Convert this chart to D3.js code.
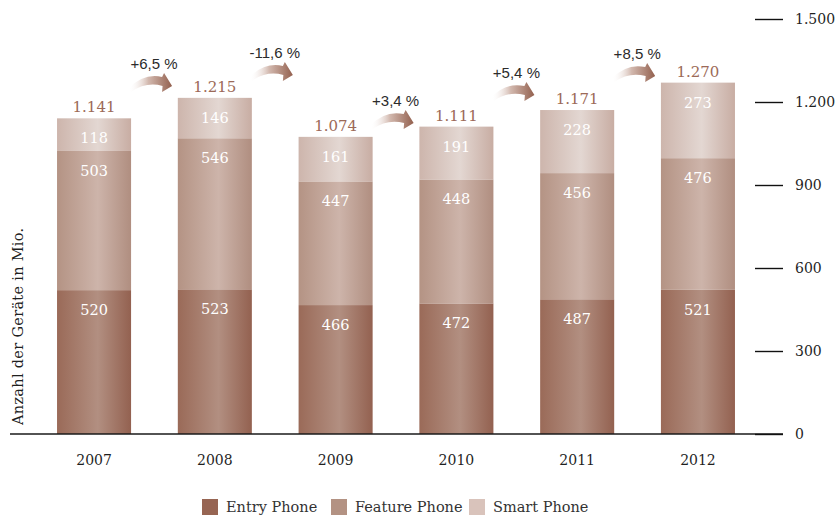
<!DOCTYPE html>
<html lang="de">
<head>
<meta charset="utf-8">
<script src="https://cdn.jsdelivr.net/npm/d3@7/dist/d3.min.js"></script>
<style>
  html, body { margin: 0; padding: 0; background: #ffffff; }
  svg { display: block; }
  text { font-family: "DejaVu Serif", serif; }
</style>
</head>
<body>
<svg id="chart" width="836" height="516"></svg>
<script>
// Absatz von Mobiltelefonen nach Gerätetyp, Mio. Stück
const years   = ["2007", "2008", "2009", "2010", "2011", "2012"];
const entry   = [520, 523, 466, 472, 487, 521];
const feature = [503, 546, 447, 448, 456, 476];
const smart   = [118, 146, 161, 191, 228, 273];
const seriesNames = ["Entry Phone", "Feature Phone", "Smart Phone"];
const yTicks  = [0, 300, 600, 900, 1200, 1500];

// Höhe der Wachstumspfeile zwischen zwei Jahren (in Mio., Oberkante des Pfeils)
const arrowLevels = [1305, 1345, 1171, 1272, 1341];

const W = 836, H = 516;
const svg = d3.select("#chart");

const de = d3.formatLocale({
  decimal: ",", thousands: ".", grouping: [3], currency: ["", " €"], minus: "-"
});
const fmtInt = de.format(",d");
const fmtPct = v => de.format("+.1f")(v) + " %";

const x = d3.scaleBand()
  .domain(years)
  .range([20.8, 771.2])
  .paddingInner(0.387)
  .paddingOuter(0.3);

const y = d3.scaleLinear().domain([0, 1500]).range([434, 19]);

// Farbverläufe der Säulen: dunkle Kanten, heller Streifen leicht rechts der Mitte
const palettes = [
  { edge: "#9a6a58", light: "#b28f81", edge2: "#936150", legend: "#976553" },
  { edge: "#b49384", light: "#cdb4aa", edge2: "#b08e80", legend: "#b39283" },
  { edge: "#cdb5ac", light: "#e3d7d2", edge2: "#c8ada3", legend: "#d9c3bb" }
];
const defs = svg.append("defs");
palettes.forEach((p, i) => {
  const g = defs.append("linearGradient")
    .attr("id", "bar-grad-" + i)
    .attr("x1", "0%").attr("x2", "100%").attr("y1", "0%").attr("y2", "0%");
  g.append("stop").attr("offset", "0%").attr("stop-color", p.edge);
  g.append("stop").attr("offset", "55%").attr("stop-color", p.light);
  g.append("stop").attr("offset", "100%").attr("stop-color", p.edge2);
});
const ag = defs.append("linearGradient")
  .attr("id", "arrow-grad")
  .attr("x1", "0%").attr("x2", "100%").attr("y1", "0%").attr("y2", "0%");
ag.append("stop").attr("offset", "0%").attr("stop-color", "#ffffff").attr("stop-opacity", 0);
ag.append("stop").attr("offset", "45%").attr("stop-color", "#d2b8ae").attr("stop-opacity", 1);
ag.append("stop").attr("offset", "100%").attr("stop-color", "#93604e").attr("stop-opacity", 1);

// Stapel
const rows = years.map((yr, i) => ({ year: yr, entry: entry[i], feature: feature[i], smart: smart[i] }));
const stack = d3.stack().keys(["entry", "feature", "smart"]);
const layers = stack(rows);
const totals = rows.map(r => r.entry + r.feature + r.smart);

const layerG = svg.append("g").selectAll("g")
  .data(layers)
  .join("g")
  .attr("fill", (d, i) => `url(#bar-grad-${i})`);

layerG.selectAll("rect")
  .data(d => d)
  .join("rect")
  .attr("x", d => x(d.data.year))
  .attr("width", x.bandwidth())
  .attr("y", d => y(d[1]))
  .attr("height", d => y(d[0]) - y(d[1]));

// Werte in den Segmenten
svg.append("g").selectAll("g")
  .data(layers)
  .join("g")
  .selectAll("text")
  .data(d => d.map(s => ({ s, v: s[1] - s[0] })))
  .join("text")
  .attr("x", d => x(d.s.data.year) + x.bandwidth() / 2)
  .attr("y", d => y(d.s[1]) + 25)
  .attr("text-anchor", "middle")
  .attr("fill", "#ffffff")
  .style("font-size", "14.5px")
  .text(d => fmtInt(d.v));

// Summen über den Säulen
svg.append("g").selectAll("text")
  .data(totals)
  .join("text")
  .attr("x", (d, i) => x(years[i]) + x.bandwidth() / 2)
  .attr("y", d => y(d) - 6)
  .attr("text-anchor", "middle")
  .attr("fill", "#9c6a58")
  .style("font-size", "15px")
  .text(d => fmtInt(d));

// Wachstumspfeile mit Veränderung zum Vorjahr
const arrowPath = "M0,15 Q15,0 33,4 L35,0 L43,13 L33,19 L33.5,13 Q17,8.5 2,19 Z";
const changes = totals.slice(1).map((t, i) => ({
  pct: (t - totals[i]) / totals[i] * 100,
  from: years[i],
  level: arrowLevels[i]
}));
const arrows = svg.append("g").selectAll("g")
  .data(changes)
  .join("g")
  .attr("transform", d => `translate(${x(d.from) + x.bandwidth() - 2},${y(d.level)})`);
arrows.append("path")
  .attr("d", arrowPath)
  .attr("fill", "url(#arrow-grad)");
arrows.append("text")
  .attr("x", 25)
  .attr("y", -4)
  .attr("text-anchor", "middle")
  .attr("fill", "#2b2b2b")
  .style("font-family", "'Liberation Sans', Arial, sans-serif")
  .style("font-size", "15px")
  .text(d => fmtPct(d.pct));

// Grundlinie
svg.append("line")
  .attr("x1", 10).attr("x2", 783)
  .attr("y1", y(0)).attr("y2", y(0))
  .attr("stroke", "#1a1a1a")
  .attr("stroke-width", 1.3);

// Jahresbeschriftung
svg.append("g").selectAll("text")
  .data(years)
  .join("text")
  .attr("x", d => x(d) + x.bandwidth() / 2)
  .attr("y", 465)
  .attr("text-anchor", "middle")
  .attr("fill", "#1f1f1f")
  .style("font-size", "14px")
  .text(d => d);

// Rechte Achse
const axis = d3.axisRight(y)
  .tickValues(yTicks)
  .tickSize(28)
  .tickPadding(12)
  .tickFormat(fmtInt);
const axisG = svg.append("g")
  .attr("transform", "translate(755,0)")
  .call(axis);
axisG.select(".domain").remove();
axisG.selectAll(".tick line").attr("stroke", "#111").attr("stroke-width", 1.4);
axisG.selectAll(".tick text")
  .attr("fill", "#1f1f1f")
  .style("font-family", "'DejaVu Serif', serif")
  .style("font-size", "14px");

// Achsentitel
svg.append("text")
  .attr("transform", "translate(23,425) rotate(-90)")
  .attr("fill", "#1f1f1f")
  .style("font-size", "14.5px")
  .style("letter-spacing", "0.3px")
  .text("Anzahl der Geräte in Mio.");

// Legende
const legendX = [202, 331, 469];
const legend = svg.append("g").selectAll("g")
  .data(seriesNames)
  .join("g")
  .attr("transform", (d, i) => `translate(${legendX[i]},499)`);
legend.append("rect")
  .attr("width", 16).attr("height", 16)
  .attr("fill", (d, i) => palettes[i].legend);
legend.append("text")
  .attr("x", 24)
  .attr("y", 13)
  .attr("fill", "#333")
  .style("font-size", "14.5px")
  .text(d => d);
</script>
</body>
</html>
